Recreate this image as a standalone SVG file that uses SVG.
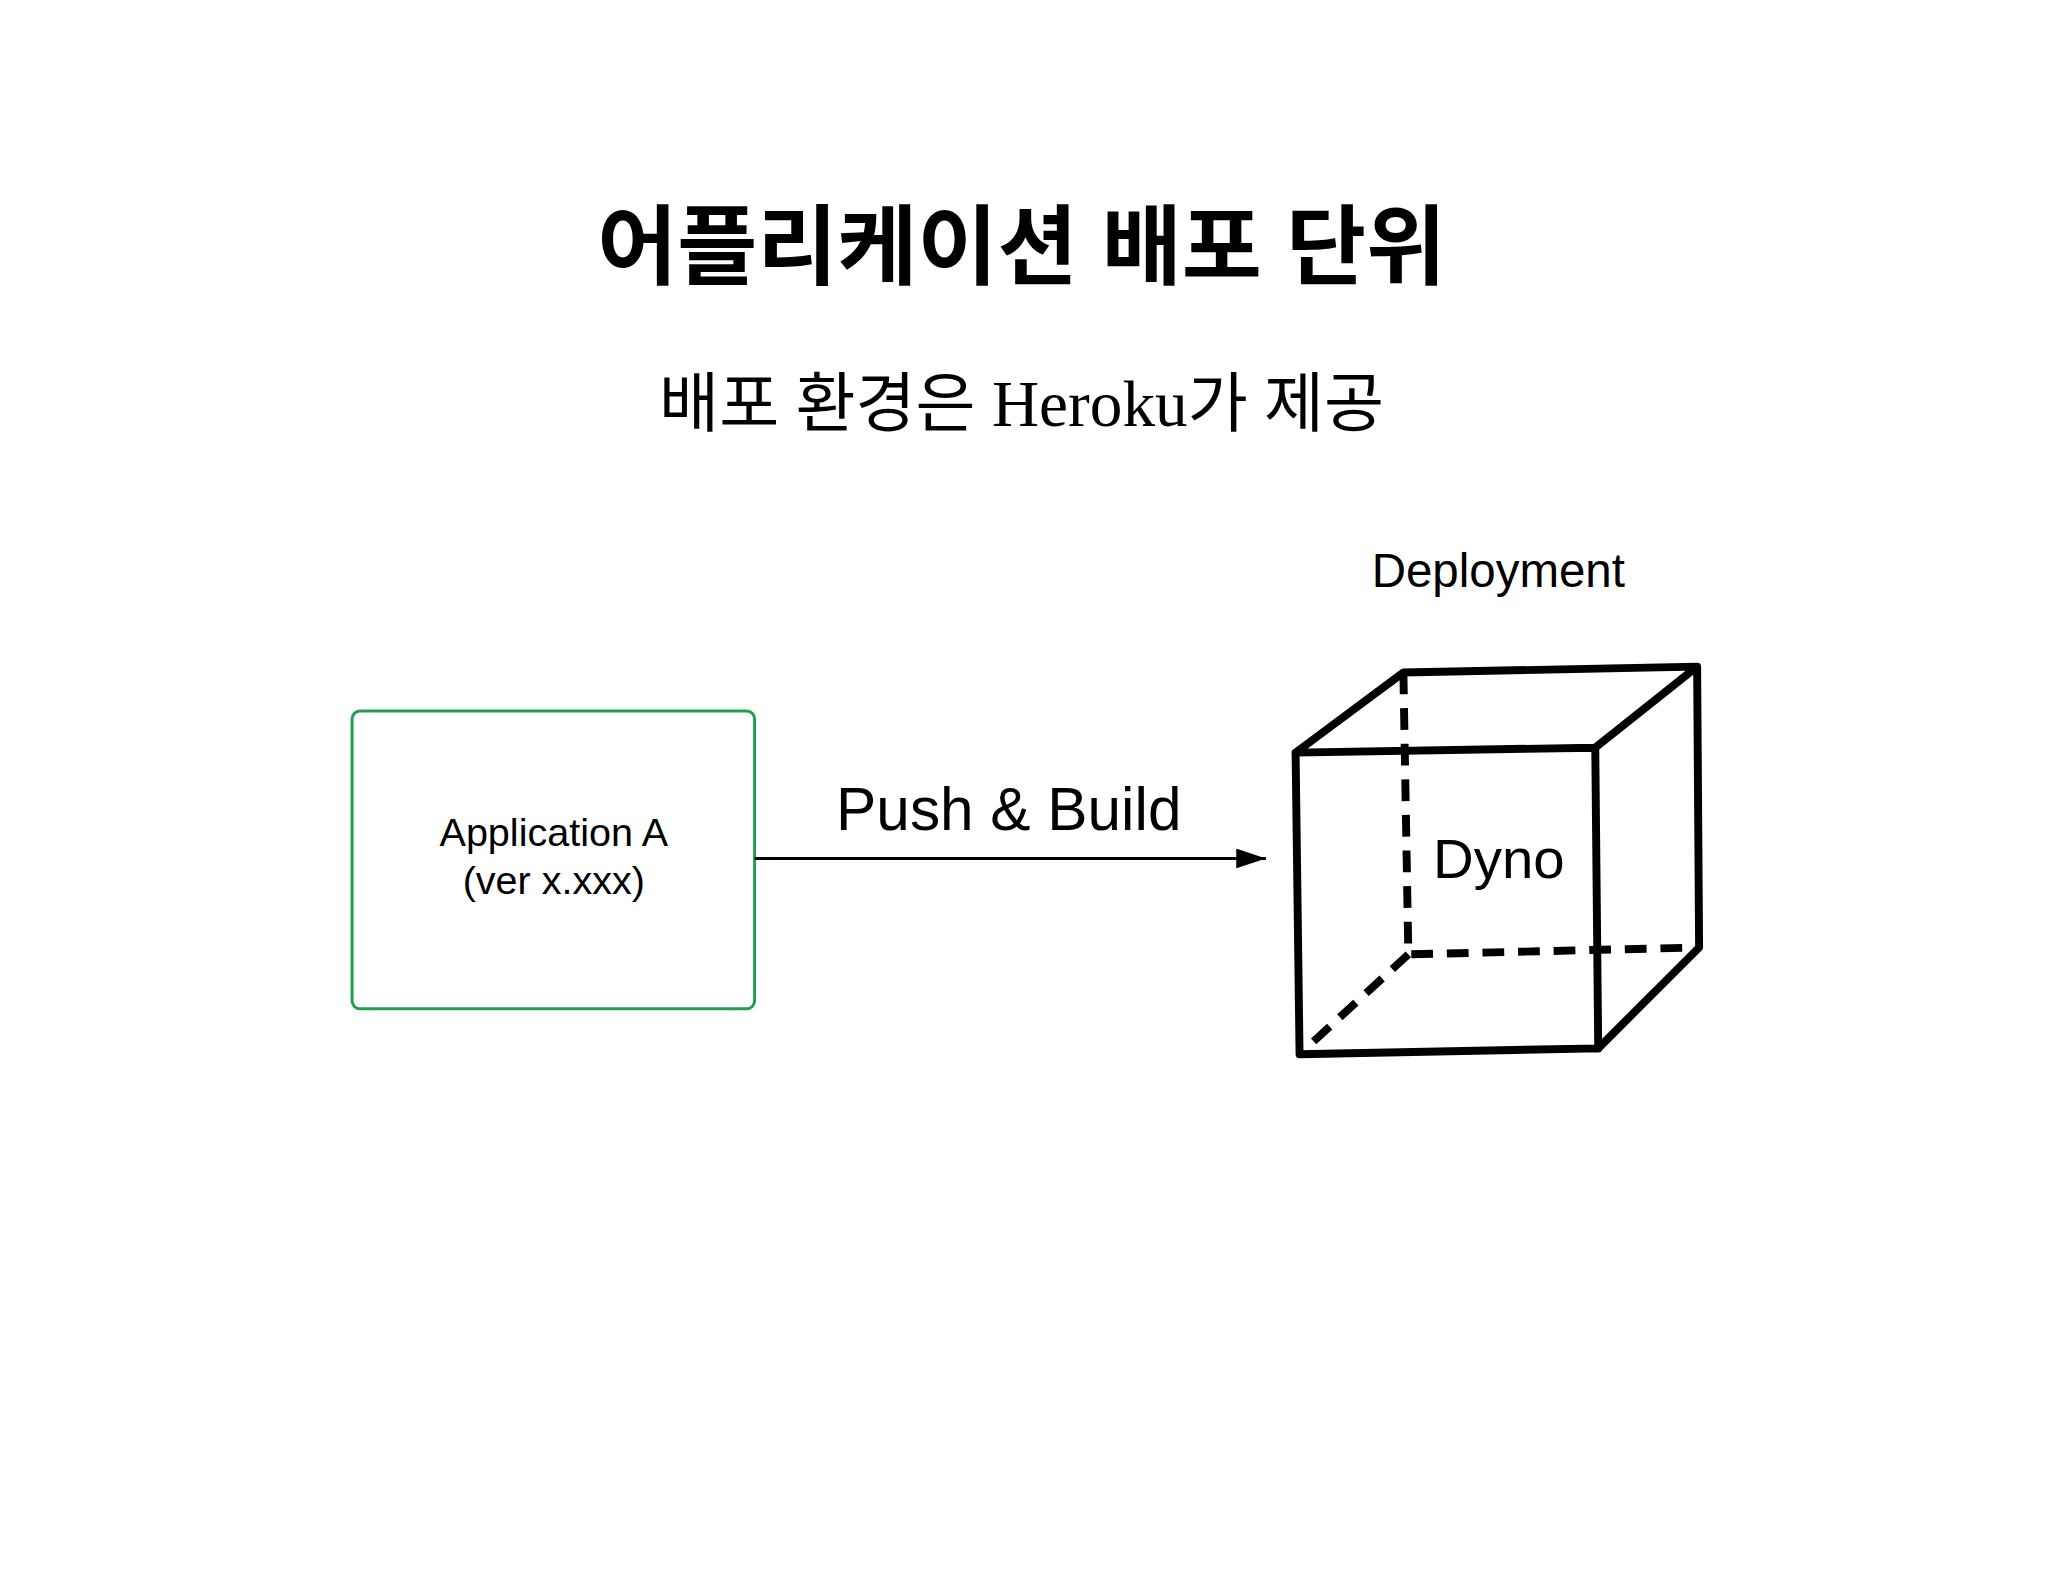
<svg xmlns="http://www.w3.org/2000/svg" width="2048" height="1582" viewBox="0 0 2048 1582">
<style>
.s{font-family:"Liberation Sans","Noto Sans CJK KR",sans-serif;fill:#000}
.c{stroke:#000;stroke-width:8;fill:none;stroke-linejoin:round;stroke-linecap:round}
.d{stroke-dasharray:22 14;stroke-linecap:butt}
</style>
<defs>
<marker id="ah2" viewBox="0 0 30 20" refX="30" refY="10" markerWidth="30" markerHeight="20" orient="auto" markerUnits="userSpaceOnUse"><path d="M0,0L30,10L0,20Z" fill="#000"/></marker></defs>
<rect width="2048" height="1582" fill="#fff"/>
<g transform="scale(0.989)">
<g id="title"><text class="s" x="1033" y="281" font-size="88" font-weight="bold" text-anchor="middle">어플리케이션 배포 단위</text></g>
<g id="subtitle"><text x="1033" y="431" font-size="66" text-anchor="middle" font-family="'Liberation Serif','Noto Sans CJK KR',serif">배포 환경은 Heroku가 제공</text></g>
<g id="app"><rect x="356" y="719" width="407" height="301" rx="8" fill="#fff" stroke="#1e9e4e" stroke-width="3"/>
<text class="s" x="560" y="855" font-size="40" text-anchor="middle">Application A</text>
<text class="s" x="560" y="904" font-size="40" text-anchor="middle">(ver x.xxx)</text></g>
<g id="connectors"><line x1="763" y1="868" x2="1280" y2="868" stroke="#000" stroke-width="3" marker-end="url(#ah2)"/>
<text class="s" x="1020" y="839" font-size="61" text-anchor="middle">Push &amp; Build</text></g>
<g id="dyno">
<text class="s" x="1515" y="594" font-size="48" text-anchor="middle">Deployment</text>
<path class="c d" d="M1419,680L1424,965L1718,958M1424,965L1314,1066"/>
<path class="c" d="M1310,761L1613,756L1616,1060L1314,1066Z M1310,761L1419,680L1716,674L1613,756 M1716,674L1718,958L1616,1060"/>
<text class="s" x="1449" y="888" font-size="57">Dyno</text>
</g>
</g>
</svg>
